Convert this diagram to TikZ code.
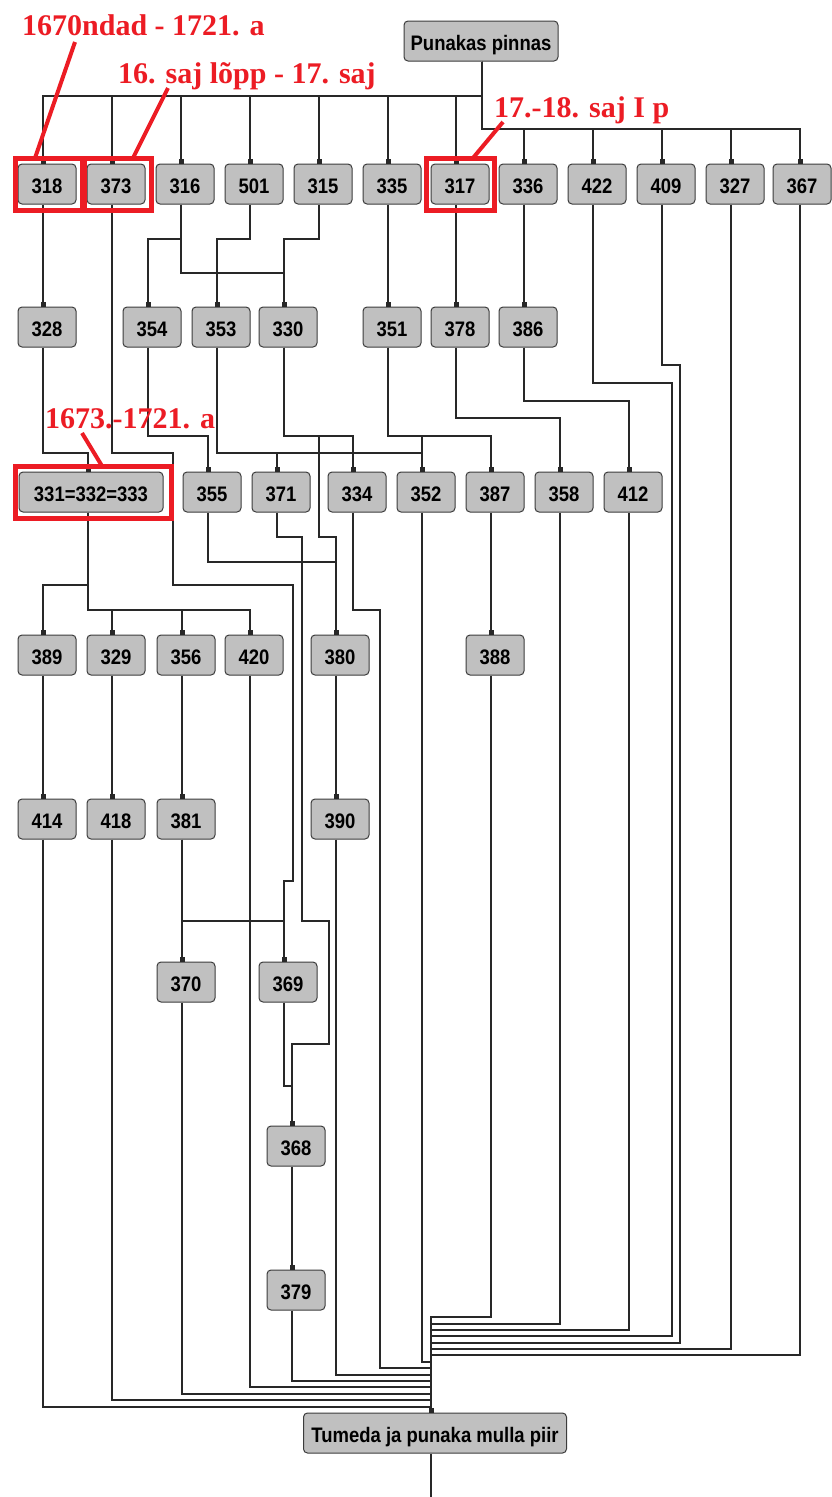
\documentclass[tikz,border=0pt]{standalone}
\usepackage{fontspec}
\newfontfamily\boxfont{Liberation Sans}[FakeStretch=0.88]
\newfontfamily\annfont{Liberation Serif}
\usetikzlibrary{arrows.meta}
\definecolor{boxfill}{RGB}{192,192,192}
\definecolor{boxline}{RGB}{60,60,60}
\definecolor{wire}{RGB}{40,40,40}
\definecolor{annred}{RGB}{236,28,36}
\tikzset{
  box/.style={draw=boxline, fill=boxfill, rounded corners=4pt, line width=1pt,
    minimum width=58pt, minimum height=40pt, inner sep=0pt,
    text height=19pt, text depth=0pt,
    font=\boxfont\bfseries\fontsize{21}{21}\selectfont},
  wbox/.style={box, minimum width=#1},
  conn/.style={draw=wire, line width=1.2pt},
  pin/.style={conn, -{Square[length=5pt,width=5pt]}},
  ann/.style={text=annred, inner sep=0pt, font=\annfont\bfseries\fontsize{30}{30}\selectfont},
  redline/.style={draw=annred, line width=4pt},
  frame/.style={draw=annred, line width=5pt},
}
\begin{document}
\begin{tikzpicture}[x=1pt,y=-1pt]
\useasboundingbox (0,0) rectangle (831,1497);
\fill[white] (0,0) rectangle (831,1497);
% ---------- nodes (box centres lie 4px right of the connector pins) ----------
\node[wbox=154pt] (P) at (481,41) {Punakas pinnas};
% row 1
\node[box] (n318) at (47,184) {318};
\node[box] (n373) at (116,184) {373};
\node[box] (n316) at (185,184) {316};
\node[box] (n501) at (254,184) {501};
\node[box] (n315) at (323,184) {315};
\node[box] (n335) at (392,184) {335};
\node[box] (n317) at (460,184) {317};
\node[box] (n336) at (528,184) {336};
\node[box] (n422) at (597,184) {422};
\node[box] (n409) at (666,184) {409};
\node[box] (n327) at (735,184) {327};
\node[box] (n367) at (802,184) {367};
% row 2
\node[box] (n328) at (47,327) {328};
\node[box] (n354) at (152,327) {354};
\node[box] (n353) at (221,327) {353};
\node[box] (n330) at (288,327) {330};
\node[box] (n351) at (392,327) {351};
\node[box] (n378) at (460,327) {378};
\node[box] (n386) at (528,327) {386};
% row 3
\node[wbox=144pt] (nA) at (91,492) {331=332=333};
\node[box] (n355) at (212,492) {355};
\node[box] (n371) at (281,492) {371};
\node[box] (n334) at (357,492) {334};
\node[box] (n352) at (426,492) {352};
\node[box] (n387) at (495,492) {387};
\node[box] (n358) at (564,492) {358};
\node[box] (n412) at (633,492) {412};
% row 4
\node[box] (n389) at (47,655) {389};
\node[box] (n329) at (116,655) {329};
\node[box] (n356) at (186,655) {356};
\node[box] (n420) at (254,655) {420};
\node[box] (n380) at (340,655) {380};
\node[box] (n388) at (495,655) {388};
% row 5
\node[box] (n414) at (47,819) {414};
\node[box] (n418) at (116,819) {418};
\node[box] (n381) at (186,819) {381};
\node[box] (n390) at (340,819) {390};
% rows 6-8
\node[box] (n370) at (186,982) {370};
\node[box] (n369) at (288,982) {369};
\node[box] (n368) at (296,1146) {368};
\node[box] (n379) at (296,1290) {379};
% bottom
\node[wbox=263pt] (T) at (435,1433) {Tumeda ja punaka mulla piir};
\coordinate (bottomend) at (431,1497);
% ---------- connectors ----------
% top
\foreach \n/\x in {n318/43,n373/112,n316/181,n501/250,n315/319,n335/388,n317/456}
  \draw[pin] ([xshift=1pt]P.south) |- (\x,96) -- ([xshift=-4pt]\n.north);
\foreach \n/\x in {n336/524,n422/593,n409/662,n327/731}
  \draw[pin] ([xshift=1pt]P.south) |- (\x,129) -- ([xshift=-4pt]\n.north);
\draw[pin] ([xshift=1pt]P.south) |- (800,129) -- ([xshift=-2pt]n367.north);
% straight links
\foreach \a/\b in {n318/n328,n335/n351,n317/n378,n336/n386,n387/n388,
                   n389/n414,n329/n418,n356/n381,n380/n390,n381/n370,n368/n379}
  \draw[pin] ([xshift=-4pt]\a.south) -- ([xshift=-4pt]\b.north);
% row 1 -> row 2
\draw[pin] ([xshift=-4pt]n316.south) |- (148,239) -- ([xshift=-4pt]n354.north);
\draw[pin] ([xshift=-4pt]n316.south) |- (284,273) -- ([xshift=-4pt]n330.north);
\draw[pin] ([xshift=-4pt]n501.south) |- (217,239) -- ([xshift=-4pt]n353.north);
\draw[pin] ([xshift=-4pt]n315.south) |- (284,239) -- ([xshift=-4pt]n330.north);
\draw[pin] ([xshift=-4pt]n373.south) -- (112,453) -- (173,453) -- (173,585) -- (293,585)
  -- (293,881) -- (284,881) -- ([xshift=-4pt]n369.north);
% row 2 -> row 3
\draw[pin] ([xshift=-4pt]n328.south) |- (88,453) -- ([xshift=-3pt]nA.north);
\draw[pin] ([xshift=-4pt]n354.south) |- (208,436) -- ([xshift=-4pt]n355.north);
\draw[pin] ([xshift=-4pt]n353.south) |- (277,453) -- ([xshift=-4pt]n371.north);
\draw[pin] ([xshift=-4pt]n353.south) |- (422,453) -- ([xshift=-4pt]n352.north);
\draw[pin] ([xshift=-4pt]n330.south) |- (353,436) -- ([xshift=-4pt]n334.north);
\draw[pin] ([xshift=-4pt]n330.south) |- (319,436) -- (319,537) -- (336,537) -- ([xshift=-4pt]n380.north);
\draw[pin] ([xshift=-4pt]n351.south) |- (422,436) -- ([xshift=-4pt]n352.north);
\draw[pin] ([xshift=-4pt]n351.south) |- (491,436) -- ([xshift=-4pt]n387.north);
\draw[pin] ([xshift=-4pt]n378.south) |- (560,418) -- ([xshift=-4pt]n358.north);
\draw[pin] ([xshift=-4pt]n386.south) |- (629,401) -- ([xshift=-4pt]n412.north);
% row 3 -> row 4
\draw[pin] ([xshift=-3pt]nA.south) |- (43,585) -- ([xshift=-4pt]n389.north);
\draw[pin] ([xshift=-3pt]nA.south) |- (112,610) -- ([xshift=-4pt]n329.north);
\draw[pin] ([xshift=-3pt]nA.south) |- (182,610) -- ([xshift=-4pt]n356.north);
\draw[pin] ([xshift=-3pt]nA.south) |- (250,610) -- ([xshift=-4pt]n420.north);
\draw[pin] ([xshift=-4pt]n355.south) |- (336,562) -- ([xshift=-4pt]n380.north);
\draw[pin] ([xshift=-4pt]n371.south) |- (302,537) -- (302,921) -- (329,921) -- (329,1044)
  -- (292,1044) -- ([xshift=-4pt]n368.north);
% lower rows
\draw[pin] ([xshift=-4pt]n381.south) |- (284,921) -- ([xshift=-4pt]n369.north);
\draw[pin] ([xshift=-4pt]n369.south) -- (284,1086) -- (292,1086) -- ([xshift=-4pt]n368.north);
% into the bottom node
\foreach \n/\y in {n414/1407,n418/1400,n370/1394,n420/1387,n379/1381,n390/1375,
                   n352/1362,n388/1317,n358/1324,n412/1330,n327/1349}
  \draw[pin] ([xshift=-4pt]\n.south) |- (431,\y) -- ([xshift=-4pt]T.north);
\draw[pin] ([xshift=-2pt]n367.south) |- (431,1355) -- ([xshift=-4pt]T.north);
\draw[pin] ([xshift=-4pt]n334.south) |- (380,610) -- (380,1368) -- (431,1368) -- ([xshift=-4pt]T.north);
\draw[pin] ([xshift=-4pt]n422.south) |- (672,383) -- (672,1336) -- (431,1336) -- ([xshift=-4pt]T.north);
\draw[pin] ([xshift=-4pt]n409.south) |- (680,365) -- (680,1343) -- (431,1343) -- ([xshift=-4pt]T.north);
\draw[conn] ([xshift=-4pt]T.south) -- (bottomend);
% ---------- red annotations ----------
\draw[frame] ([shift={(-2.5,-5.5)}]n318.north west) rectangle ([shift={(5.5,5.5)}]n318.south east);
\draw[frame] ([shift={(-2.5,-5.5)}]n373.north west) rectangle ([shift={(5.5,5.5)}]n373.south east);
\draw[frame] ([shift={(-4.5,-5.5)}]n317.north west) rectangle ([shift={(4.5,5.5)}]n317.south east);
\draw[frame] ([shift={(-3.5,-5.5)}]nA.north west) rectangle ([shift={(7.5,5.5)}]nA.south east);
\node[ann, anchor=base west] (t1) at (22,35) {1670ndad - 1721. a};
\node[ann, anchor=base west] (t2) at (118,83) {16. saj lõpp - 17. saj};
\node[ann, anchor=base west] (t3) at (494,117) {17.-18. saj I p};
\node[ann, anchor=base west] (t4) at (45,428) {1673.-1721. a};
\coordinate (a1) at (75,42);   \coordinate (b1) at (35,158);
\coordinate (a2) at (168,88);  \coordinate (b2) at (133,158);
\coordinate (a3) at (503,122); \coordinate (b3) at (473,158);
\coordinate (a4) at (82,433);  \coordinate (b4) at (102,466);
\draw[redline] (a1) -- (b1);
\draw[redline] (a2) -- (b2);
\draw[redline] (a3) -- (b3);
\draw[redline] (a4) -- (b4);
\end{tikzpicture}
\end{document}
